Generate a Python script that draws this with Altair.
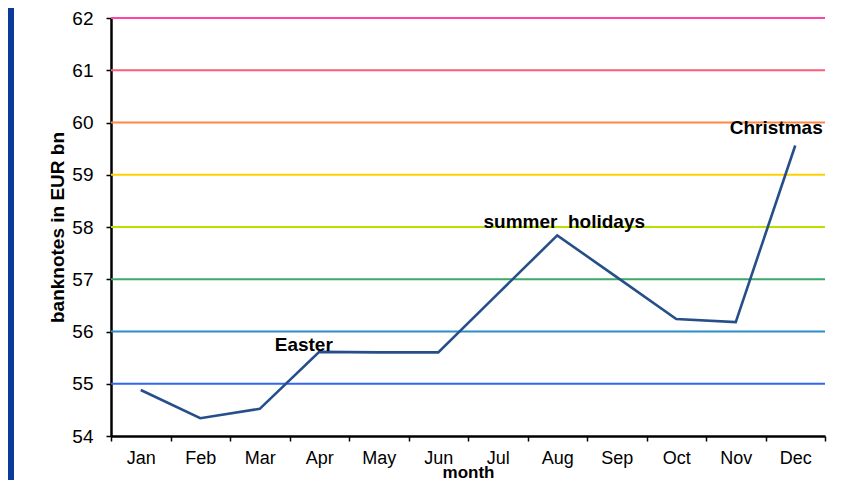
import altair as alt
import pandas as pd

months = ["Jan", "Feb", "Mar", "Apr", "May", "Jun", "Jul", "Aug", "Sep", "Oct", "Nov", "Dec"]
values = [54.88, 54.34, 54.52, 55.61, 55.6, 55.6, 56.72, 57.84, 57.04, 56.24, 56.18, 59.56]

grid_values = [55, 56, 57, 58, 59, 60, 61, 62]
grid_colors = ["#3366ee", "#2a8ec8", "#3aaa66", "#b8e000", "#ffd000", "#ff8844", "#ff5c7c", "#ff44aa"]

ann_month = ["Apr", "Aug", "Dec"]
ann_value = [55.61, 57.84, 59.56]
ann_text = ["Easter", "summer\u00a0 holidays", "Christmas"]

df = pd.DataFrame({"month": months, "value": values})
gdf = pd.DataFrame({"v": grid_values, "c": grid_colors})
adf = pd.DataFrame({"month": ann_month, "value": ann_value, "label": ann_text})

FONT = "Liberation Sans"
xscale = alt.Scale(domain=months, paddingInner=0, paddingOuter=0)
yscale = alt.Scale(domain=[54, 62], nice=False, zero=False)

xenc = alt.X("month:N", sort=months, scale=xscale,
             axis=alt.Axis(title="month", tickBand="extent", labelAngle=0,
                           labelFontSize=18, labelPadding=8, tickSize=5,
                           titleFontSize=17, titleFontWeight="bold",
                           titleY=41, titleBaseline="alphabetic",
                           domainColor="black", domainWidth=2.5, tickColor="black",
                           tickWidth=1.5, labelColor="black", titleColor="black",
                           labelFont=FONT, titleFont=FONT))

frame = alt.Chart(pd.DataFrame({"a": [0]})).mark_rect(color="#0a3a9a").encode(
    x=alt.value(-103), x2=alt.value(-97), y=alt.value(-10), y2=alt.value(472))

grid = alt.Chart(gdf).mark_rule(strokeWidth=1.8).encode(
    y=alt.Y("v:Q", scale=yscale),
    color=alt.Color("c:N", scale=None),
)

line = alt.Chart(df).mark_line(color="#264f8a", strokeWidth=2.6).encode(
    x=xenc,
    y=alt.Y("value:Q", scale=yscale,
            axis=alt.Axis(title="banknotes in EUR bn", values=list(range(54, 63)),
                          grid=False, labelFontSize=19, labelPadding=13, tickSize=5,
                          titleFontSize=19, titleFontWeight="bold", titlePadding=4,
                          domainColor="black", domainWidth=2.5, tickColor="black",
                          tickWidth=1.5, labelColor="black", titleColor="black",
                          labelFont=FONT, titleFont=FONT)),
)

offsets = {"Easter": (-15.5, -1), "summer\u00a0 holidays": (7, -7), "Christmas": (-19, -11)}
texts = []
for lab in ann_text:
    dx, dy = offsets[lab]
    texts.append(
        alt.Chart(adf).transform_filter(alt.datum.label == lab).mark_text(
            font=FONT, fontSize=19, fontWeight="bold", color="black",
            align="center", baseline="alphabetic", dx=dx, dy=dy
        ).encode(
            x=alt.X("month:N", sort=months, scale=xscale),
            y=alt.Y("value:Q", scale=yscale),
            text="label:N",
        )
    )

chart = alt.layer(frame, grid, line, *texts).properties(
    width=714, height=418,
    autosize=alt.AutoSizeParams(type="none"),
    padding={"left": 103, "top": 10, "right": 10, "bottom": 44},
    background="white",
).configure_view(stroke=None)

chart.save("out.html", embed_options={"renderer": "svg", "actions": False})
